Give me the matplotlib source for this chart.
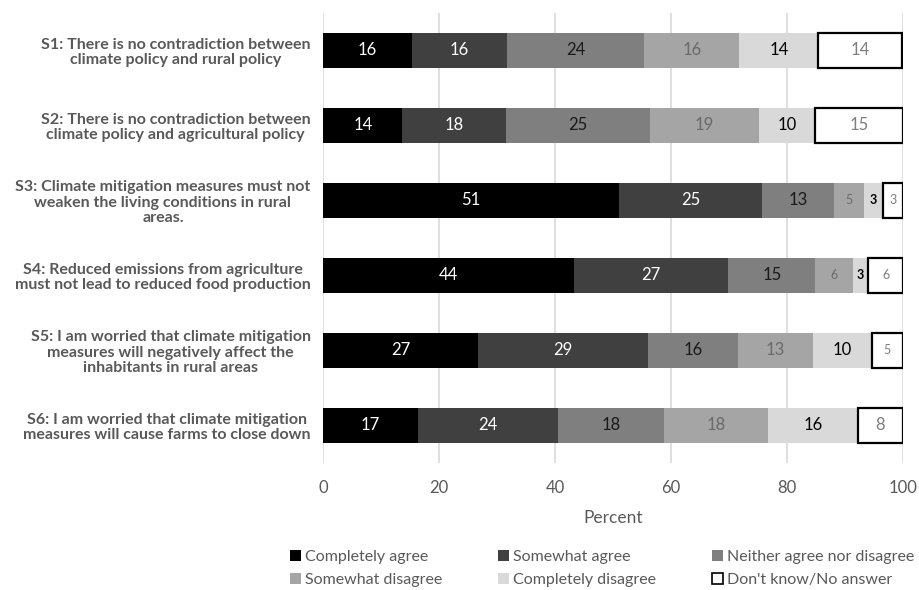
import numpy as np
import matplotlib
matplotlib.use("Agg")
import matplotlib.pyplot as plt
from matplotlib.patches import Patch

plt.rcParams['font.family'] = ['Lato', 'DejaVu Sans']

# statements (top to bottom)
statements = [
    "S1: There is no contradiction between\nclimate policy and rural policy",
    "S2: There is no contradiction between\nclimate policy and agricultural policy",
    "S3: Climate mitigation measures must not\nweaken the living conditions in rural\nareas.",
    "S4: Reduced emissions from agriculture\nmust not lead to reduced food production",
    "S5: I am worried that climate mitigation\nmeasures will negatively affect the\ninhabitants in rural areas",
    "S6: I am worried that climate mitigation\nmeasures will cause farms to close down",
]

answers = ["Completely agree", "Somewhat agree", "Neither agree nor disagree",
           "Somewhat disagree", "Completely disagree", "Don't know/No answer"]

# bar widths (percent), one list per answer
completely_agree    = [15.3, 13.7, 51.1, 43.3, 26.7, 16.4]
somewhat_agree      = [16.4, 17.9, 24.6, 26.6, 29.4, 24.1]
neither             = [23.7, 24.8, 12.4, 15.0, 15.4, 18.3]
somewhat_disagree   = [16.4, 18.8, 5.2, 6.5, 12.9, 17.9]
completely_disagree = [13.6, 9.7, 3.2, 2.6, 10.2, 15.5]
dont_know           = [14.5, 15.1, 3.5, 6.0, 5.4, 7.8]

# printed labels
lab_completely_agree    = [16, 14, 51, 44, 27, 17]
lab_somewhat_agree      = [16, 18, 25, 27, 29, 24]
lab_neither             = [24, 25, 13, 15, 16, 18]
lab_somewhat_disagree   = [16, 19, 5, 6, 13, 18]
lab_completely_disagree = [14, 10, 3, 3, 10, 16]
lab_dont_know           = [14, 15, 3, 6, 5, 8]

series = [completely_agree, somewhat_agree, neither,
          somewhat_disagree, completely_disagree, dont_know]
labels = [lab_completely_agree, lab_somewhat_agree, lab_neither,
          lab_somewhat_disagree, lab_completely_disagree, lab_dont_know]

colors = ['#000000', '#404040', '#7f7f7f', '#a5a5a5', '#d9d9d9', '#ffffff']
text_colors = ['#ffffff', '#ffffff', '#1a1a1a', '#6a6a6a', '#000000', '#7f7f7f']

fig = plt.figure(figsize=(9.19, 5.90), dpi=100)
ax = fig.add_axes([0.3515, 0.2153, 0.6311, 0.7627])

y = np.arange(len(statements))
left = np.zeros(len(statements))
for k in range(len(series)):
    w = np.array(series[k])
    edge = 'black' if k == 5 else 'none'
    lw = 1.6 if k == 5 else 0
    ax.barh(y, w, left=left, height=0.46, color=colors[k],
            edgecolor=edge, linewidth=lw, label=answers[k], zorder=3)
    for i in range(len(statements)):
        small = w[i] < 7
        ax.text(left[i] + w[i] / 2, y[i], str(labels[k][i]),
                ha='center', va='center', color=text_colors[k],
                fontsize=9 if small else 12,
                fontweight='bold' if (small and k == 4) else 'normal',
                zorder=4)
    left = left + w

ax.set_xlim(0, 100)
ax.set_ylim(len(statements) - 0.5, -0.5)
ax.set_xticks([0, 20, 40, 60, 80, 100])
ax.set_yticks(y)
ax.set_yticklabels(statements, multialignment='center', fontweight='bold',
                   fontsize=11.5, color='#595959', linespacing=1.1)
ax.tick_params(axis='x', length=0, labelsize=12, labelcolor='#595959', pad=12)
ax.tick_params(axis='y', length=0, pad=9)
ax.grid(axis='x', color='#d9d9d9', linewidth=1.2, zorder=0)
for s in ax.spines.values():
    s.set_visible(False)
ax.set_xlabel("Percent", fontsize=12.5, color='#595959', labelpad=10)

handles = [Patch(facecolor=colors[k], edgecolor='black' if k == 5 else colors[k],
                 linewidth=1.2 if k == 5 else 0) for k in range(6)]
order = [0, 3, 1, 4, 2, 5]
fig.legend([handles[i] for i in order], [answers[i] for i in order],
           ncol=3, loc='center', bbox_to_anchor=(0.655, 0.036),
           frameon=False, fontsize=11.5, labelcolor='#595959',
           handlelength=0.7, handleheight=0.7, handletextpad=0.25,
           columnspacing=3.5, labelspacing=0.55, borderpad=0.2)

fig.savefig("out.png", dpi=100)
